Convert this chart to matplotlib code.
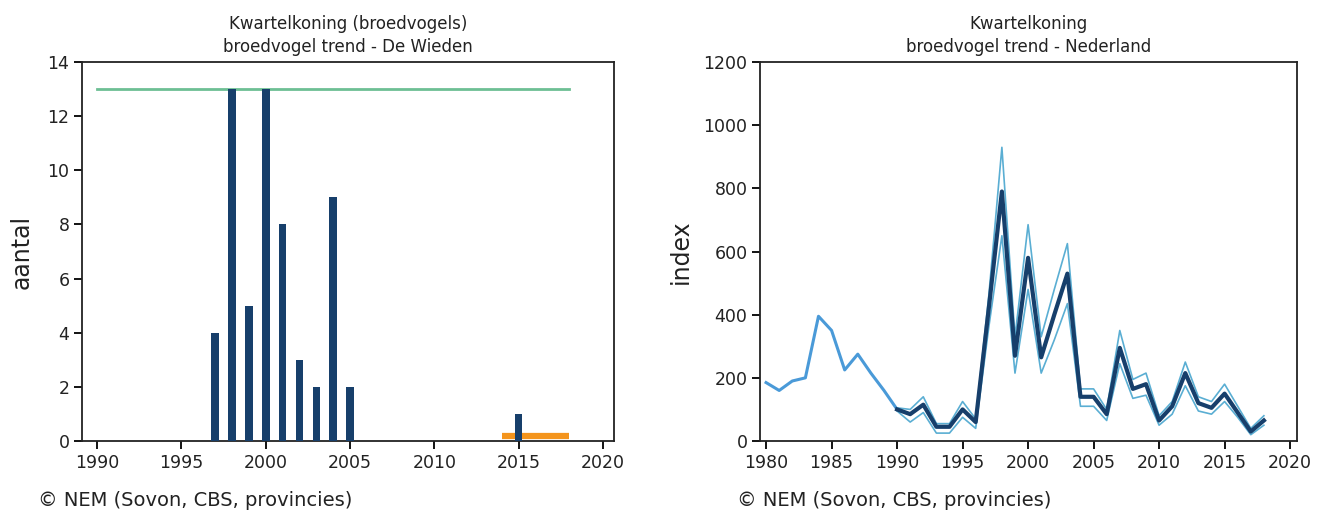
import matplotlib.pyplot as plt

plt.rcParams['font.family'] = ['DejaVu Sans']

# De Wieden: counted territories per year
wieden_years = [1997, 1998, 1999, 2000, 2001, 2002, 2003, 2004, 2005, 2015]
wieden_counts = [4, 13, 5, 13, 8, 3, 2, 9, 2, 1]
max_level = 13
max_span = [1990, 2018]
recent_level = 0.18
recent_span = [2014, 2018]

# Nederland: index, early period (single estimate)
early_years = [1980, 1981, 1982, 1983, 1984, 1985, 1986, 1987, 1988, 1989, 1990]
early_index = [185, 160, 190, 200, 395, 350, 225, 275, 215, 160, 100]

# Nederland: index with confidence band from 1990 onwards
trend_years = list(range(1990, 2019))
trend_index = [100, 85, 115, 45, 45, 100, 60, 420, 790, 270, 580, 265, 400, 530,
               140, 140, 85, 295, 165, 180, 65, 110, 215, 120, 105, 150, 90, 30, 65]
trend_upper = [105, 100, 140, 55, 55, 125, 70, 460, 930, 330, 685, 330, 480, 625,
               165, 165, 100, 350, 195, 215, 80, 125, 250, 140, 125, 180, 110, 40, 80]
trend_lower = [95, 60, 90, 25, 25, 75, 40, 360, 650, 215, 480, 215, 320, 435,
               110, 110, 65, 245, 135, 145, 50, 85, 175, 95, 85, 125, 75, 20, 50]

navy = '#173f6b'
band_col = '#5aaed3'
early_col = '#4a9ad8'
text_col = '#222222'

fig = plt.figure(figsize=(13.2, 5.17), dpi=100)
ax1 = fig.add_axes([0.0621, 0.147, 0.4030, 0.733])
ax2 = fig.add_axes([0.5758, 0.147, 0.4068, 0.733])

# left panel
ax1.plot(max_span, [max_level, max_level], color='#6dbf94', lw=2, zorder=2)
ax1.plot(recent_span, [recent_level, recent_level], color='#f4941c', lw=4.5,
         solid_capstyle='butt', zorder=2)
ax1.bar(wieden_years, wieden_counts, width=0.45, color=navy, zorder=3)
ax1.set_xlim(1989.1, 2020.65)
ax1.set_ylim(0, 14)
ax1.set_xticks(range(1990, 2021, 5))
ax1.set_yticks(range(0, 15, 2))
ax1.set_ylabel('aantal', fontsize=17, labelpad=10, color=text_col)
ax1.set_title('Kwartelkoning (broedvogels)\nbroedvogel trend - De Wieden',
              fontsize=12, linespacing=1.4, pad=7, color=text_col)

# right panel
ax2.plot(trend_years, trend_upper, color=band_col, lw=1.2, zorder=2)
ax2.plot(trend_years, trend_lower, color=band_col, lw=1.2, zorder=2)
ax2.plot(early_years, early_index, color=early_col, lw=2.2, zorder=3)
ax2.plot(trend_years, trend_index, color=navy, lw=3, zorder=4)
ax2.set_xlim(1979.54, 2020.53)
ax2.set_ylim(0, 1200)
ax2.set_xticks(range(1980, 2021, 5))
ax2.set_yticks(range(0, 1201, 200))
ax2.set_ylabel('index', fontsize=17, labelpad=8, color=text_col)
ax2.set_title('Kwartelkoning\nbroedvogel trend - Nederland',
              fontsize=12, linespacing=1.4, pad=7, color=text_col)

for ax in (ax1, ax2):
    for s in ax.spines.values():
        s.set_linewidth(1.3)
        s.set_color('#222222')
    ax.tick_params(direction='out', length=6, width=1.3, labelsize=12.5, pad=3,
                   labelcolor=text_col)

fig.text(0.029, 0.022, '\u00a9 NEM (Sovon, CBS, provincies)', fontsize=14,
         color=text_col)
fig.text(0.558, 0.022, '\u00a9 NEM (Sovon, CBS, provincies)', fontsize=14,
         color=text_col)

fig.savefig('out.png', dpi=100)
